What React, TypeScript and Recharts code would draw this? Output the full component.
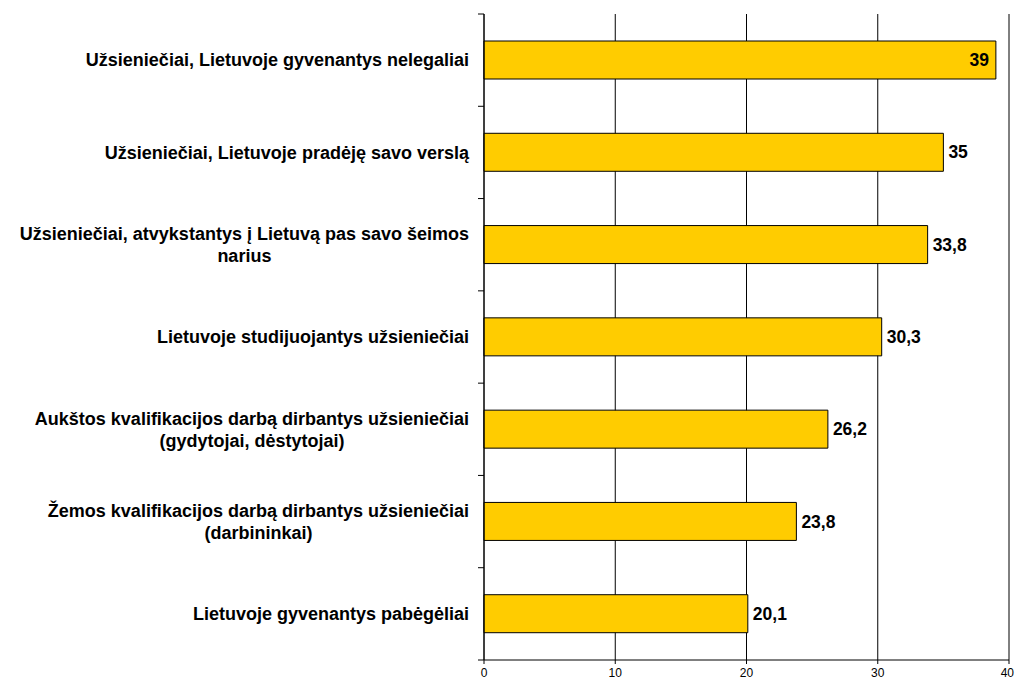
import React from "react";
import {
  BarChart,
  Bar,
  XAxis,
  YAxis,
  CartesianGrid,
  LabelList,
} from "recharts";

const categories = [
  ["Užsieniečiai, Lietuvoje gyvenantys nelegaliai"],
  ["Užsieniečiai, Lietuvoje pradėję savo verslą"],
  ["Užsieniečiai, atvykstantys į Lietuvą pas savo šeimos", "narius"],
  ["Lietuvoje studijuojantys užsieniečiai"],
  ["Aukštos kvalifikacijos darbą dirbantys užsieniečiai", "(gydytojai, dėstytojai)"],
  ["Žemos kvalifikacijos darbą dirbantys užsieniečiai", "(darbininkai)"],
  ["Lietuvoje gyvenantys pabėgėliai"],
];
const values = [39, 35, 33.8, 30.3, 26.2, 23.8, 20.1];
const xTicks = [0, 10, 20, 30, 40];

const data = categories.map((lines, i) => ({
  name: lines.join(" "),
  lines,
  value: values[i],
}));

const FONT = "'Liberation Sans', Arial, sans-serif";
const LABEL_FONT_SIZE = 18;
const AXIS_X = 484;
const BAND = 646 / 7;

let ctx: CanvasRenderingContext2D | null = null;
const measure = (text: string, font = `bold ${LABEL_FONT_SIZE}px ${FONT}`) => {
  if (!ctx) ctx = document.createElement("canvas").getContext("2d");
  if (!ctx) return text.length * 9;
  ctx.font = font;
  return ctx.measureText(text).width;
};

// category label: right-aligned block, extra lines centred under the first,
// plus the small boundary tick on the axis
const CategoryTick = (props: any) => {
  const { y, payload, index } = props;
  const lines: string[] = data[index]?.lines ?? [payload.value];
  const right = 469;
  const blockW = Math.max(...lines.map((l) => measure(l)));
  const cx = right - blockW / 2;
  const lh = 22;
  const startY = y - ((lines.length - 1) * lh) / 2;
  const top = y - BAND / 2;
  return (
    <g>
      <line x1={AXIS_X - 6} x2={AXIS_X} y1={top} y2={top} stroke="#000" />
      {index === data.length - 1 && (
        <line x1={AXIS_X - 6} x2={AXIS_X} y1={top + BAND} y2={top + BAND} stroke="#000" />
      )}
      {lines.map((l, i) => (
        <text
          key={i}
          x={lines.length > 1 ? cx : right}
          y={startY + i * lh}
          dy="0.35em"
          textAnchor={lines.length > 1 ? "middle" : "end"}
          fontFamily={FONT}
          fontWeight="bold"
          fontSize={LABEL_FONT_SIZE}
          fill="#000"
        >
          {l}
        </text>
      ))}
    </g>
  );
};

// x tick label, kept inside the 1016px page
const XTick = (props: any) => {
  const { x, y, payload } = props;
  const label = String(payload.value);
  const w = measure(label, `12px ${FONT}`);
  const cx = Math.min(x, 1014 - w / 2);
  return (
    <text x={cx} y={y} dy="0.71em" textAnchor="middle" fontFamily={FONT} fontSize={12} fill="#000">
      {label}
    </text>
  );
};

const ValueLabel = (props: any) => {
  const { x, y, width, height, value } = props;
  const inside = value >= 38;
  const tx = inside ? x + width - 7 : x + width + 5;
  return (
    <text
      x={tx}
      y={y + height / 2}
      dy="0.35em"
      textAnchor={inside ? "end" : "start"}
      fontFamily={FONT}
      fontWeight="bold"
      fontSize={17.5}
      fill="#000"
    >
      {String(value).replace(".", ",")}
    </text>
  );
};

export default function App() {
  return (
    <div style={{ position: "fixed", left: 0, top: 0, width: 1016, height: 682, background: "#fff" }}>
      <BarChart
        width={1016}
        height={682}
        data={data}
        layout="vertical"
        margin={{ top: 14, right: 7, bottom: 0, left: 0 }}
      >
        <CartesianGrid horizontal={false} vertical stroke="#000" />
        <XAxis
          type="number"
          domain={[0, 40]}
          ticks={xTicks}
          height={22}
          tickSize={4}
          tickMargin={4}
          stroke="#000"
          tick={<XTick />}
          interval={0}
        />
        <YAxis
          type="category"
          dataKey="name"
          width={484}
          tickLine={false}
          axisLine={{ stroke: "#000" }}
          tick={<CategoryTick />}
          interval={0}
        />
        <Bar
          dataKey="value"
          fill="#FFCC00"
          stroke="#000"
          strokeWidth={1}
          barSize={38}
          isAnimationActive={false}
        >
          <LabelList dataKey="value" content={<ValueLabel />} />
        </Bar>
      </BarChart>
    </div>
  );
}
